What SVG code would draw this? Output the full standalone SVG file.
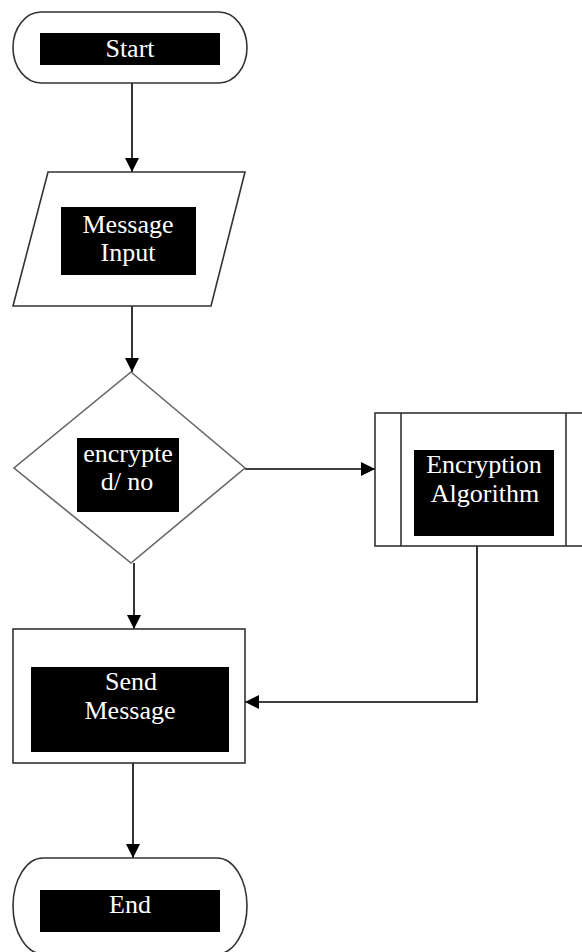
<svg xmlns="http://www.w3.org/2000/svg" width="582" height="952" viewBox="0 0 582 952">
<style>
.shape{fill:#fff;stroke:#333;stroke-width:1.6}
.dia{fill:#fff;stroke:#666;stroke-width:1.6}
.lbl{fill:#000}
.t{font-family:"Liberation Serif","Times New Roman",serif;font-size:26px;fill:#fff;text-anchor:middle}
.conn{fill:none;stroke:#000;stroke-width:1.6}
</style>
<defs>
<marker id="arr" markerUnits="userSpaceOnUse" markerWidth="14" markerHeight="14" refX="14" refY="7" orient="auto">
<path d="M0,0 L14,7 L0,14 z" fill="#000"/>
</marker>
</defs>
<rect width="582" height="952" fill="#fff"/>
<g id="connectors">
<line class="conn" x1="132" y1="83" x2="132" y2="172" marker-end="url(#arr)"/>
<line class="conn" x1="132" y1="306" x2="132" y2="372" marker-end="url(#arr)"/>
<line class="conn" x1="245" y1="469" x2="375" y2="469" marker-end="url(#arr)"/>
<line class="conn" x1="134" y1="563" x2="134" y2="629" marker-end="url(#arr)"/>
<polyline class="conn" points="477,546 477,702 245,702" marker-end="url(#arr)"/>
<line class="conn" x1="133" y1="763" x2="133" y2="858" marker-end="url(#arr)"/>
</g>
<g id="start">
<rect class="shape" x="13" y="12" width="234" height="71" rx="28" ry="35.5"/>
<rect class="lbl" x="40" y="33" width="180" height="32"/>
<text class="t" x="130" y="57">Start</text>
</g>
<g id="input">
<polygon class="shape" points="48,172 245,172 211,306 13,306"/>
<rect class="lbl" x="61" y="207" width="135" height="68"/>
<text class="t" x="128" y="233">Message</text>
<text class="t" x="128" y="261">Input</text>
</g>
<g id="decision">
<polygon class="dia" points="131,372 245,468 131,563 14,468"/>
<rect class="lbl" x="77" y="438" width="102" height="74"/>
<text class="t" x="128" y="462">encrypte</text>
<text class="t" x="127" y="490">d/ no</text>
</g>
<g id="encryption">
<rect class="shape" x="375" y="413" width="220" height="133"/>
<line class="shape" x1="401" y1="413" x2="401" y2="546"/>
<line class="shape" x1="566" y1="413" x2="566" y2="546"/>
<rect class="lbl" x="414" y="450" width="140" height="86"/>
<text class="t" x="484" y="473">Encryption</text>
<text class="t" x="485" y="502">Algorithm</text>
</g>
<g id="send">
<rect class="shape" x="13" y="629" width="232" height="134"/>
<rect class="lbl" x="31" y="667" width="198" height="85"/>
<text class="t" x="131" y="690">Send</text>
<text class="t" x="130" y="719">Message</text>
</g>
<g id="end">
<rect class="shape" x="13" y="858" width="234" height="96" rx="30" ry="48"/>
<rect class="lbl" x="40" y="890" width="180" height="42"/>
<text class="t" x="130" y="913">End</text>
</g>
</svg>
